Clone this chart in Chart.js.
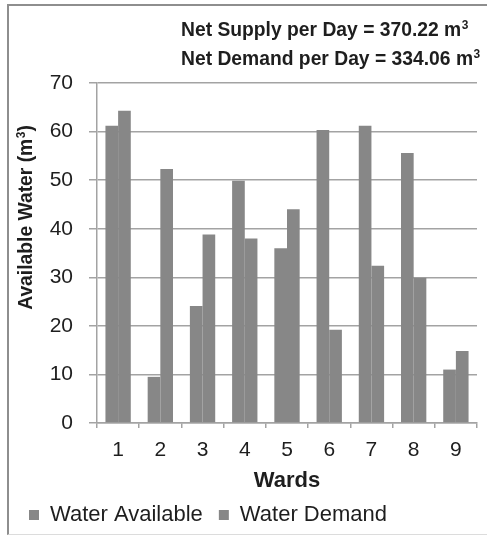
<!DOCTYPE html>
<html>
<head>
<meta charset="utf-8">
<script src="https://cdn.jsdelivr.net/npm/chart.js@4/dist/chart.umd.min.js"></script>
<style>
  html, body { margin: 0; padding: 0; background: #fff; }
  #wrap { position: relative; width: 487px; height: 536px; overflow: hidden; }
  #frame {
    position: absolute; left: 7px; top: 4px; width: 490px; height: 531px;
    border-left: 2px solid #8e8e8e; border-top: 2px solid #8e8e8e;
    border-bottom: 1px solid #dcdcdc; box-sizing: border-box; pointer-events: none;
  }
  canvas { position: absolute; left: 0; top: 0; }
</style>
</head>
<body>
<div id="wrap">
  <canvas id="chart" width="487" height="536"></canvas>
  <div id="frame"></div>
</div>
<script>
// Ward-wise daily water balance
const wards = ['1', '2', '3', '4', '5', '6', '7', '8', '9'];
const waterAvailable = [61.2, 9.5, 24.1, 49.9, 36.0, 60.3, 61.2, 55.6, 11.0];
const waterDemand = [64.3, 52.3, 38.8, 38.0, 44.0, 19.2, 32.4, 29.9, 14.8];
const yTicks = [0, 10, 20, 30, 40, 50, 60, 70];
const netSupply = '370.22';
const netDemand = '334.06';

const FONT = '"Liberation Sans", Arial, Helvetica, sans-serif';
const TEXT = '#1e1e1e';
const BAR = '#878787';
const GRID = '#a3a3a3';

// Writes text followed by a raised, smaller "3" (cubic metres)
function textWithCube(ctx, before, after, x, y, size) {
  ctx.font = 'bold ' + size + 'px ' + FONT;
  ctx.fillText(before, x, y);
  let cx = x + ctx.measureText(before).width;
  ctx.font = 'bold ' + (size * 0.62) + 'px ' + FONT;
  ctx.fillText('3', cx + 0.5, y - size * 0.36);
  cx += ctx.measureText('3').width + 0.5;
  if (after) {
    ctx.font = 'bold ' + size + 'px ' + FONT;
    ctx.fillText(after, cx, y);
    cx += ctx.measureText(after).width;
  }
  return cx - x;
}

// Summary lines and the rotated y-axis caption
const notes = {
  id: 'notes',
  afterDraw(chart) {
    const ctx = chart.ctx;
    ctx.save();
    ctx.fillStyle = TEXT;
    ctx.textAlign = 'left';
    ctx.textBaseline = 'alphabetic';
    textWithCube(ctx, 'Net Supply per Day = ' + netSupply + ' m', '', 181, 35.5, 19.3);
    textWithCube(ctx, 'Net Demand per Day = ' + netDemand + ' m', '', 181, 64.5, 19.3);

    // y-axis caption, centred on x = 25, y = 217.5
    const size = 19.3;
    ctx.font = 'bold ' + size + 'px ' + FONT;
    const w1 = ctx.measureText('Available Water (m').width;
    const w3 = ctx.measureText(')').width;
    ctx.font = 'bold ' + (size * 0.62) + 'px ' + FONT;
    const w2 = ctx.measureText('3').width + 0.5;
    const total = w1 + w2 + w3;
    ctx.translate(25 + size * 0.36, 217.5);
    ctx.rotate(-Math.PI / 2);
    textWithCube(ctx, 'Available Water (m', ')', -total / 2, 0, size);
    ctx.restore();
  }
};

new Chart(document.getElementById('chart'), {
  type: 'bar',
  data: {
    labels: wards,
    datasets: [
      { label: 'Water Available', data: waterAvailable, backgroundColor: BAR, borderWidth: 0 },
      { label: 'Water Demand', data: waterDemand, backgroundColor: BAR, borderWidth: 0 }
    ]
  },
  options: {
    responsive: false,
    animation: false,
    devicePixelRatio: 1,
    categoryPercentage: 0.6,
    barPercentage: 1.0,
    layout: { padding: { left: 13, right: 10, top: 83, bottom: 0 } },
    plugins: {
      tooltip: { enabled: false },
      legend: {
        position: 'bottom',
        align: 'start',
        labels: {
          boxWidth: 10,
          boxHeight: 10,
          padding: 16,
          color: TEXT,
          font: { family: FONT, size: 22 }
        }
      }
    },
    scales: {
      x: {
        grid: { drawOnChartArea: false, tickLength: 5, color: GRID, lineWidth: 1.5 },
        border: { color: GRID, width: 1.5 },
        ticks: { padding: 10, color: TEXT, font: { family: FONT, size: 21 }, maxRotation: 0 },
        title: {
          display: true, text: 'Wards', color: TEXT,
          font: { family: FONT, size: 22, weight: 'bold' },
          padding: { top: 0, bottom: -6 }
        },
        afterFit(scale) { scale.height = 65; }
      },
      y: {
        min: 0,
        max: 70,
        afterBuildTicks(scale) { scale.ticks = yTicks.map(v => ({ value: v })); },
        grid: { tickLength: 8, color: GRID, lineWidth: 1.5 },
        border: { color: GRID, width: 1.5 },
        ticks: { padding: 16, color: TEXT, font: { family: FONT, size: 21 } },
        afterFit(scale) { scale.width = 84; }
      }
    }
  },
  plugins: [notes]
});
</script>
</body>
</html>
